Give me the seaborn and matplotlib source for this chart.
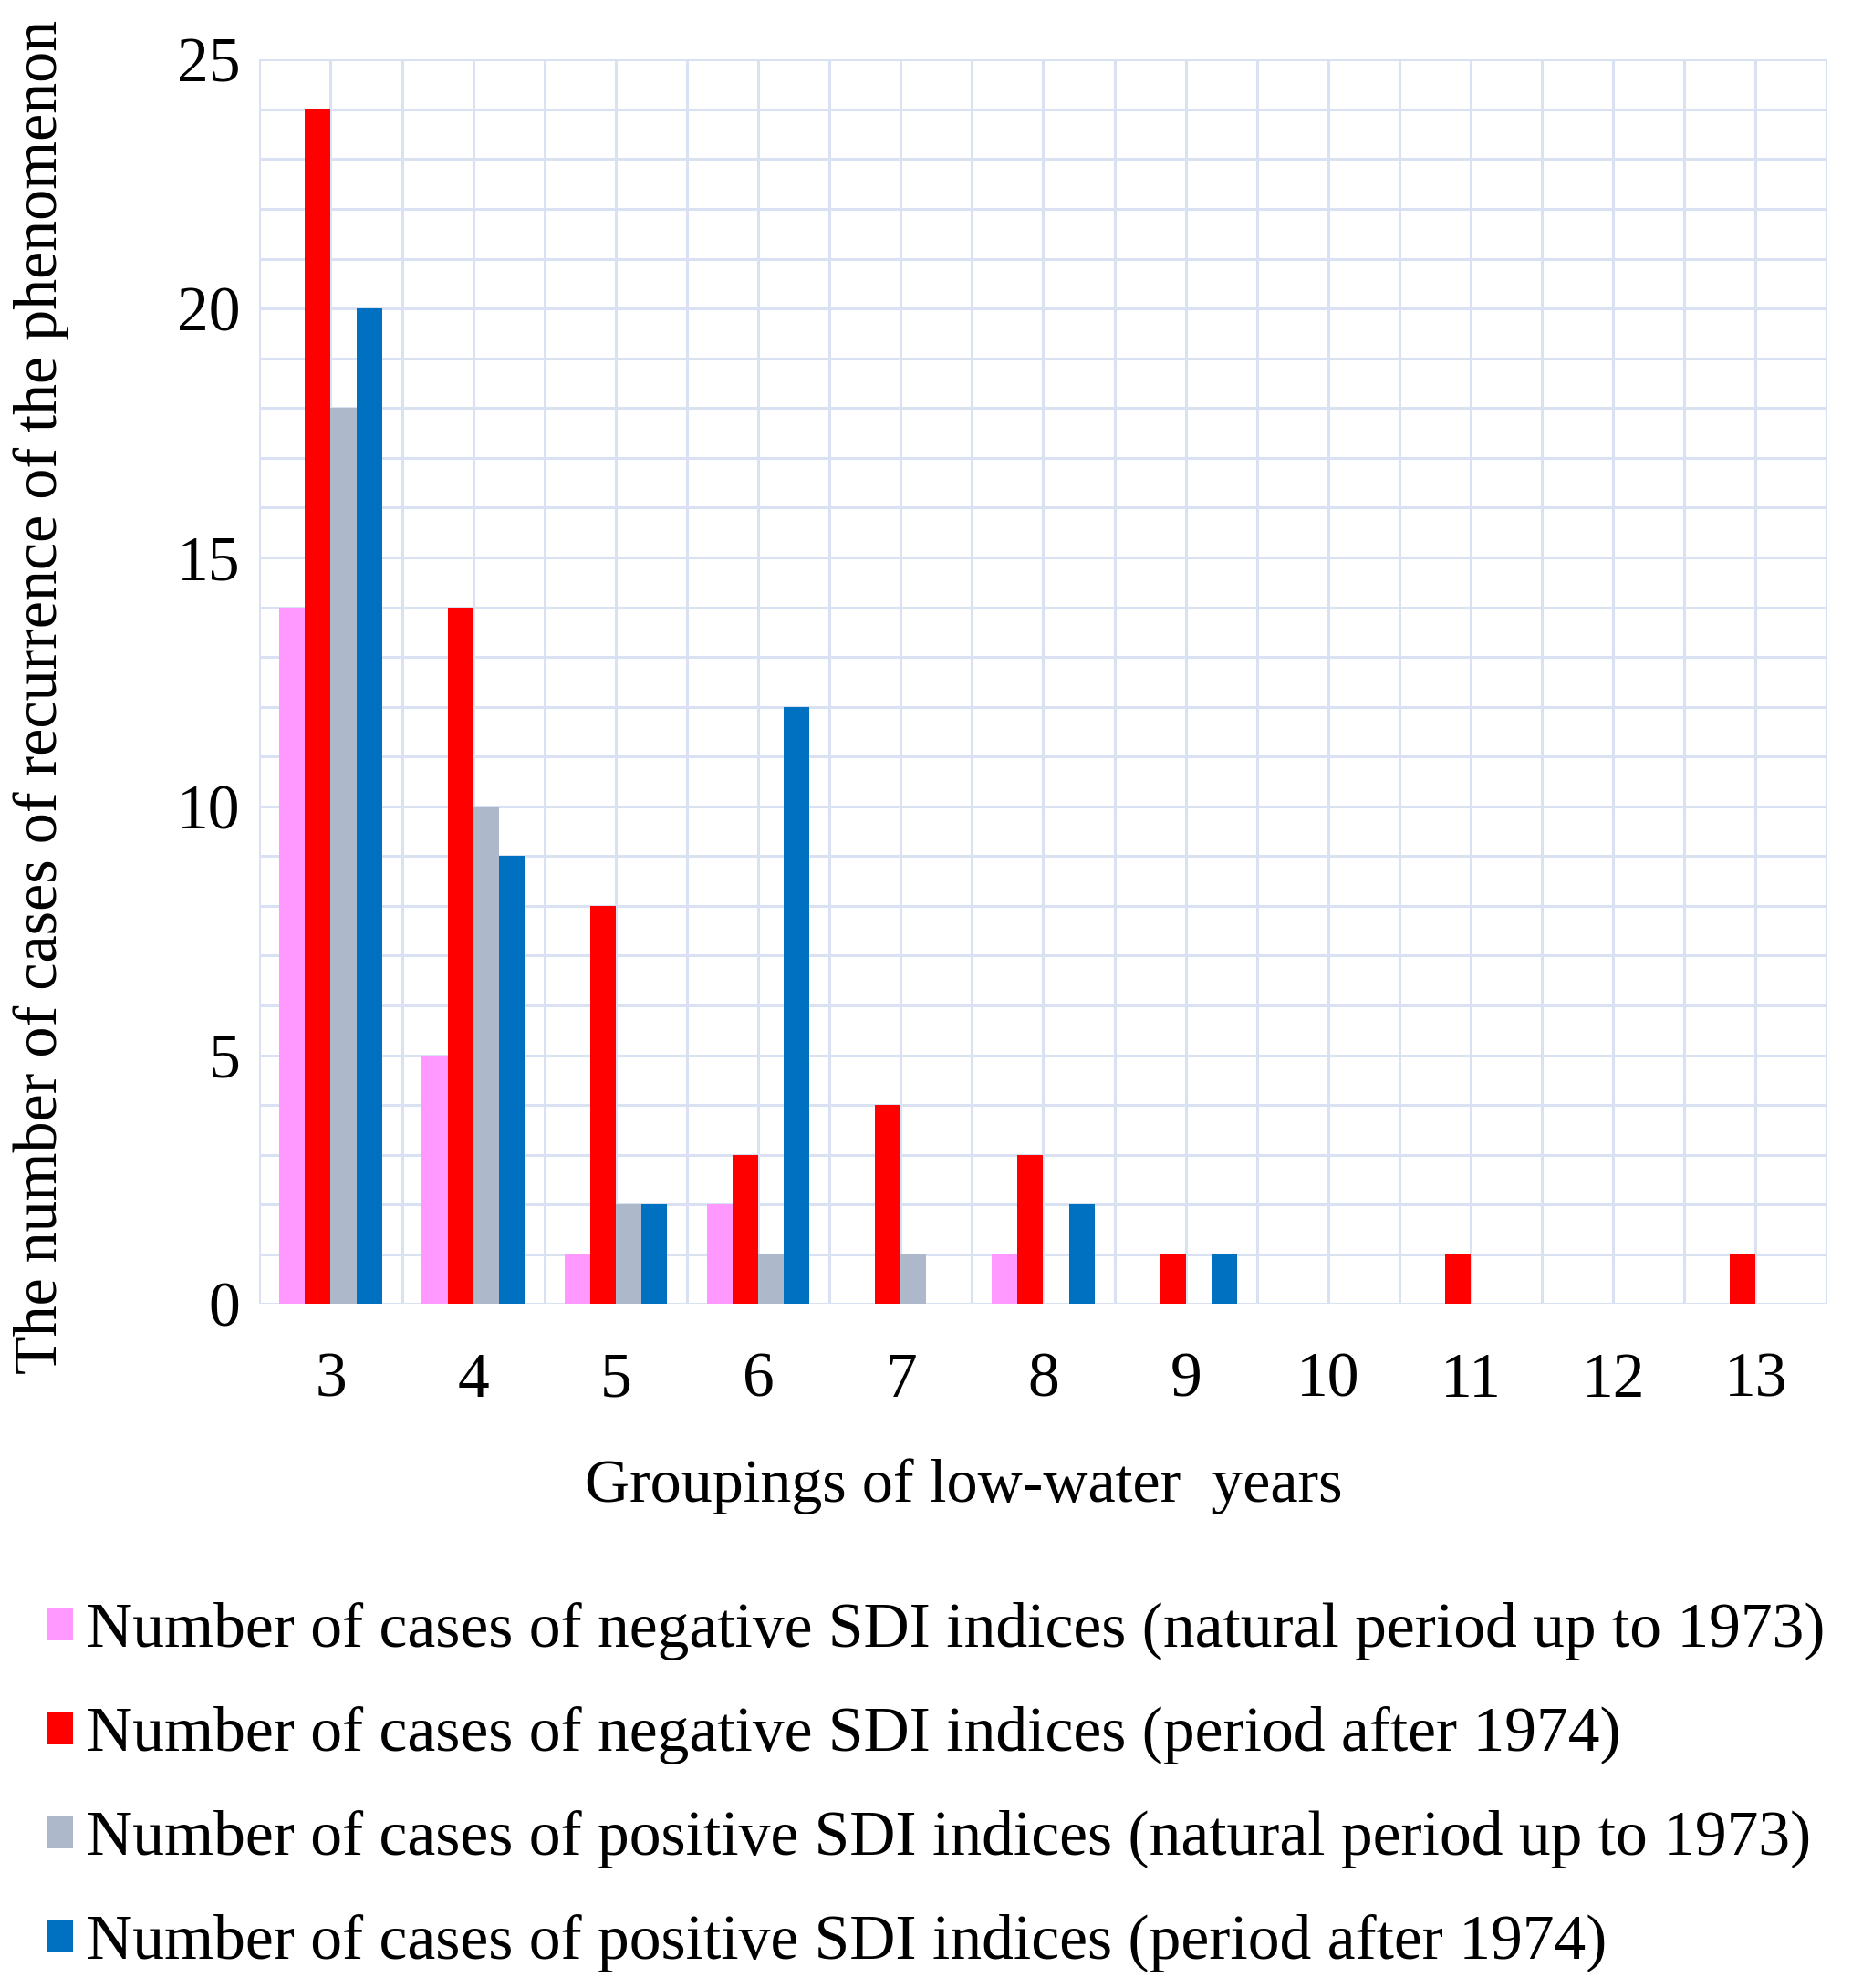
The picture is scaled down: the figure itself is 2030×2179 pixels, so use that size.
import numpy as np
import pandas as pd
import seaborn as sns
import matplotlib.pyplot as plt
from matplotlib.patches import Patch

# values
groups = ['3', '4', '5', '6', '7', '8', '9', '10', '11', '12', '13']
neg_natural = [14, 5, 1, 2, 0, 1, 0, 0, 0, 0, 0]
neg_after = [24, 14, 8, 3, 4, 3, 1, 0, 1, 0, 1]
pos_natural = [18, 10, 2, 1, 1, 0, 0, 0, 0, 0, 0]
pos_after = [20, 9, 2, 12, 0, 2, 1, 0, 0, 0, 0]

series_names = [
    'Number of cases of negative SDI indices (natural period up to 1973)',
    'Number of cases of negative SDI indices (period after 1974)',
    'Number of cases of positive SDI indices (natural period up to 1973)',
    'Number of cases of positive SDI indices (period after 1974)',
]
colors = ['#FF99FF', '#FF0000', '#ADB9CA', '#0070C0']
grid_color = '#D9E1F2'

rows = []
for name, vals in zip(series_names, [neg_natural, neg_after, pos_natural, pos_after]):
    for g, v in zip(groups, vals):
        rows.append({'group': g, 'count': v, 'series': name})
df = pd.DataFrame(rows)

sns.set_style('white')
plt.rcParams['font.family'] = ['Liberation Serif', 'DejaVu Serif']
plt.rcParams['text.color'] = 'black'
plt.rcParams['axes.labelcolor'] = 'black'
plt.rcParams['xtick.labelcolor'] = 'black'
plt.rcParams['ytick.labelcolor'] = 'black'

fig = plt.figure(figsize=(20.31, 21.79), dpi=100)
ax = fig.add_axes([0.140, 0.344, 0.846, 0.626])

sns.barplot(data=df, x='group', y='count', hue='series', order=groups,
            hue_order=series_names, palette=colors, width=0.72, gap=0,
            saturation=1, linewidth=0, legend=False, ax=ax)

ax.set_xlim(-0.5, len(groups) - 0.5)
ax.set_ylim(0, 25)
ax.set_yticks(np.arange(0, 26, 5))
ax.set_yticks(np.arange(0, 26, 1), minor=True)
ax.set_xticks(np.arange(len(groups)))
ax.set_xticklabels(groups)
ax.set_xticks(np.arange(-0.5, len(groups), 1), minor=True)

ax.set_axisbelow(True)
ax.grid(which='both', axis='both', color=grid_color, linewidth=2.2)
for s in ax.spines.values():
    s.set_visible(False)

ax.tick_params(axis='y', which='major', length=10, width=2, color=grid_color,
               labelsize=50, pad=5)
ax.tick_params(axis='y', which='minor', length=0)
ax.tick_params(axis='x', which='major', length=0, labelsize=50, pad=38)
ax.tick_params(axis='x', which='minor', length=18, width=2, color=grid_color)

ax.set_xlabel('Groupings of low-water  years', fontsize=49)
ax.set_ylabel('The number of cases of recurrence of the phenomenon', fontsize=49)
ax.xaxis.set_label_coords(0.449, -0.124)
ax.yaxis.set_label_coords(-0.121, 0.488)

handles = [Patch(facecolor=c, edgecolor='none') for c in colors]
fig.legend(handles, series_names, loc='upper left', bbox_to_anchor=(0.025, 0.194),
           frameon=False, fontsize=50, handlelength=0.42, handleheight=0.42,
           handletextpad=0.22, labelspacing=0.72, borderpad=0, borderaxespad=0)

plt.savefig('out.png', dpi=100)
